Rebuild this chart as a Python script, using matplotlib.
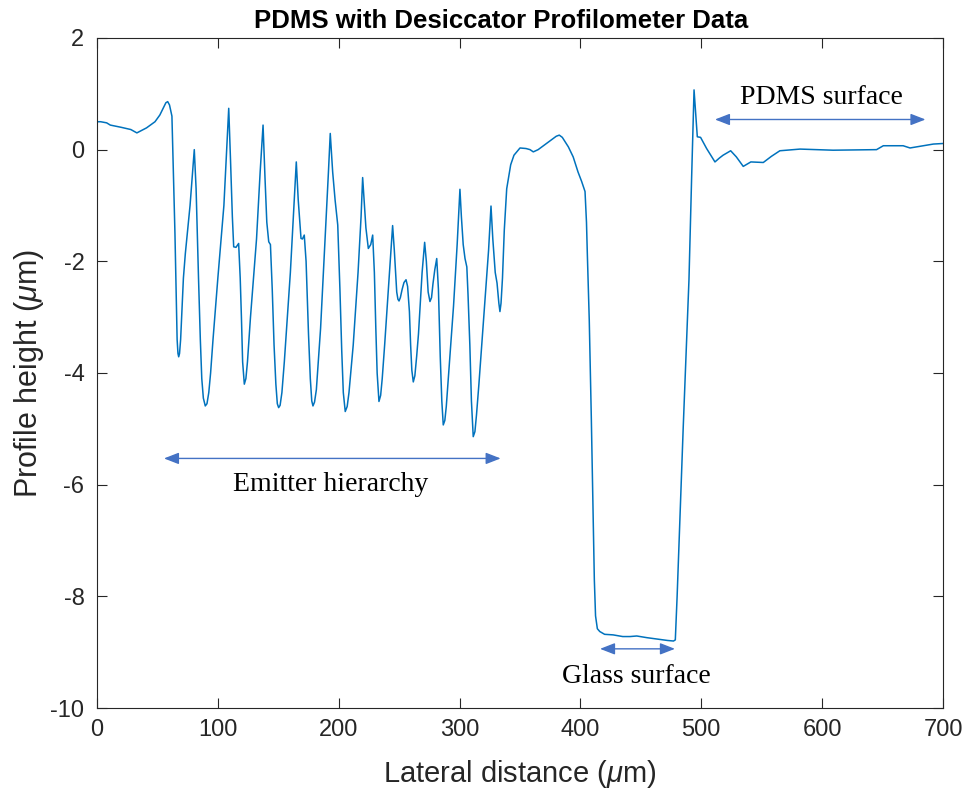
import matplotlib
matplotlib.use("Agg")
import matplotlib.pyplot as plt

# Profile data (lateral distance in um, height in um)
x_um = [0, 3, 8, 11, 20, 28, 33, 41, 48, 52, 57, 58.5, 60, 62,
        64.5, 65.5, 66.3, 67, 67.6, 68.3, 69.2, 70.5, 71.5, 73.1,
        77, 80.5, 82, 84, 85.5, 86.7, 88, 89.6, 91, 92.5, 94, 96, 100, 105,
        109, 110.5, 112, 113.1, 115, 117.2,
        118.5, 119.5, 120.5, 121.9, 123.2, 124.5, 127, 132, 135,
        137.4, 139, 140.5, 142.1, 143.5,
        145, 146.5, 148, 149.2, 150.3, 151.5, 153, 155, 160, 163,
        164.9, 166.5, 168.8, 170, 171.5,
        173, 175, 176.5, 177.7, 178.7, 180, 181.5, 185, 189, 191.5,
        193, 195, 197, 199.2,
        201, 202.5, 203.8, 205.4, 207, 208.5, 212, 216, 218.5,
        219.8, 221, 222.5, 224.5, 226.5, 228.1,
        229.5, 230.7, 231.8, 233.3, 234.7, 236, 238, 242,
        244.6, 246, 248, 249, 249.9, 251, 252.5, 254, 255.7, 257,
        258.5, 259.5, 260.5, 261.7, 263, 264.5, 266, 269,
        271.1, 272.5, 274, 275.5, 276.8, 278, 279.5, 281.1, 282.5,
        284, 285.3, 286.5, 287.8, 289, 291, 295, 298,
        300.3, 301.5, 303, 304.5, 306,
        307, 308.5, 309.8, 311.3, 312.7, 314, 316, 320, 324,
        326, 327.5, 329.5, 331, 332.5, 333.4, 334.3, 335.5, 337, 339, 342.3, 345,
        350, 355, 358.3, 361, 365, 370, 375, 380, 382.5, 385, 390,
        394, 398, 401, 403.8, 405, 405.7, 407.3, 409, 410.5, 411.5, 412.5, 414, 416, 420, 427,
        435, 441, 446.6, 455, 465, 472, 477, 478.5, 480, 485, 489.8, 492, 494, 496.7, 499.4,
        504.4, 511.3, 515, 518, 524.3, 529, 534.7, 541, 551.3, 558, 565, 581.7, 609, 645,
        650.6, 667, 672.7, 692, 700]
height_um = [0.50, 0.50, 0.48, 0.44, 0.40, 0.36, 0.30, 0.39, 0.50, 0.62, 0.84, 0.86, 0.80, 0.60,
             -1.5, -2.6, -3.4, -3.65, -3.71, -3.65, -3.4, -2.8, -2.3, -1.86,
             -1.0, 0.0, -0.7, -2.3, -3.4, -4.1, -4.45, -4.59, -4.55, -4.35, -4.0, -3.4, -2.3, -1.0,
             0.74, -0.2, -1.2, -1.74, -1.75, -1.68,
             -2.3, -3.0, -3.8, -4.2, -4.1, -3.8, -3.0, -1.6, -0.4,
             0.44, -0.5, -1.3, -1.65, -1.7,
             -2.5, -3.5, -4.2, -4.55, -4.62, -4.58, -4.35, -3.8, -2.2, -1.0,
             -0.22, -0.9, -1.59, -1.6, -1.53,
             -2.0, -3.3, -4.1, -4.5, -4.59, -4.52, -4.3, -3.2, -1.5, -0.4,
             0.29, -0.4, -0.9, -1.35,
             -2.5, -3.6, -4.35, -4.69, -4.6, -4.35, -3.5, -2.2, -1.2,
             -0.5, -0.9, -1.4, -1.77, -1.7, -1.53,
             -2.2, -3.2, -4.0, -4.51, -4.4, -4.1, -3.5, -2.2,
             -1.36, -1.8, -2.55, -2.68, -2.71, -2.65, -2.5, -2.38, -2.33, -2.45,
             -2.9, -3.5, -3.95, -4.16, -4.05, -3.7, -3.3, -2.2,
             -1.66, -2.0, -2.55, -2.72, -2.65, -2.4, -2.15, -1.95, -2.5,
             -3.7, -4.5, -4.93, -4.85, -4.6, -4.0, -2.8, -1.7,
             -0.71, -1.2, -1.7, -1.95, -2.1,
             -2.6, -3.5, -4.5, -5.14, -5.05, -4.75, -4.2, -3.0, -1.8,
             -1.01, -1.6, -2.2, -2.39, -2.75, -2.9, -2.75, -2.3, -1.44, -0.7, -0.27, -0.1,
             0.03, 0.02, 0.0, -0.04, 0.0, 0.08, 0.16, 0.24, 0.26, 0.22, 0.05,
             -0.13, -0.4, -0.57, -0.75, -1.3, -1.86, -3.05, -4.8, -6.5, -7.7, -8.35, -8.58, -8.63,
             -8.68, -8.69, -8.72, -8.72, -8.71, -8.74, -8.77, -8.79, -8.80, -8.78, -8.0, -5.0,
             -2.33, -0.5, 1.07, 0.23, 0.22, 0.02, -0.22, -0.15, -0.10, -0.02, -0.13, -0.30,
             -0.22, -0.23, -0.12, -0.02, 0.01, -0.01, 0.0, 0.07, 0.07, 0.03, 0.10, 0.11]

x_ticks = [0, 100, 200, 300, 400, 500, 600, 700]
y_ticks = [-10, -8, -6, -4, -2, 0, 2]

# Annotations: (label, arrow start x, arrow end x, arrow y, text x, text y)
ann_labels = ["Emitter hierarchy", "Glass surface", "PDMS surface"]
ann_x0 = [55.4, 416.2, 511.3]
ann_x1 = [334.0, 478.2, 685.5]
ann_y = [-5.53, -8.94, 0.54]
ann_tx = [193.6, 446.0, 599.0]
ann_ty = [-6.0, -9.43, 0.94]

plt.rcParams['axes.unicode_minus'] = False
plt.rcParams['font.family'] = ['Liberation Sans', 'DejaVu Sans']
plt.rcParams['mathtext.fontset'] = 'custom'
plt.rcParams['mathtext.it'] = 'Liberation Sans:italic'
plt.rcParams['mathtext.rm'] = 'Liberation Sans'

fig = plt.figure(figsize=(9.67, 7.91), dpi=100)
ax = fig.add_axes([0.1003, 0.1049, 0.8749, 0.8471])

ax.plot(x_um, height_um, color='#0072BD', lw=1.1)

ax.set_xlim(0, 700)
ax.set_ylim(-10, 2)
ax.set_xticks(x_ticks)
ax.set_yticks(y_ticks)
ax.tick_params(direction='in', length=7, width=0.8, top=True, right=True,
               labelsize=17, colors='#262626')
ax.tick_params(axis='x', pad=8)
ax.tick_params(axis='y', pad=9)
for s in ax.spines.values():
    s.set_color('#262626')
    s.set_linewidth(0.8)

ax.set_xlabel(r'Lateral distance ($\mu$m)', fontsize=21, color='#262626', labelpad=12)
ax.set_ylabel(r'Profile height ($\mu$m)', fontsize=22, color='#262626', labelpad=3)
ax.set_title('PDMS with Desiccator Profilometer Data', fontsize=18.5, fontweight='bold',
             color='black', pad=7, x=0.478)

for lab, x0, x1, yy, tx, ty in zip(ann_labels, ann_x0, ann_x1, ann_y, ann_tx, ann_ty):
    ax.annotate('', xy=(x1, yy), xytext=(x0, yy),
                arrowprops=dict(arrowstyle='<|-|>,head_length=0.9,head_width=0.35',
                                color='#4472C4', lw=1.0, shrinkA=0, shrinkB=0))
    ax.text(tx, ty, lab, ha='center', va='center', fontsize=20,
            family=['Liberation Serif', 'DejaVu Serif'], color='black')

fig.savefig('out.png', dpi=100, facecolor='white')
